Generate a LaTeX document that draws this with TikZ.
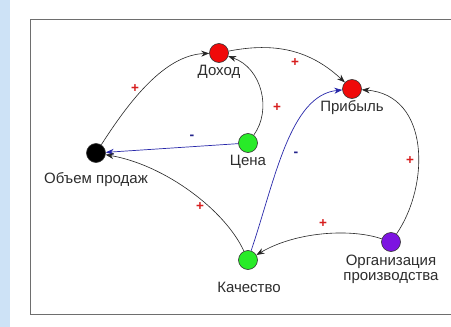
\documentclass[tikz,border=0pt]{standalone}
\usepackage{fontspec}
\setmainfont{Liberation Sans}
\usetikzlibrary{arrows.meta}
\definecolor{strip}{RGB}{205,226,246}
\definecolor{framec}{RGB}{110,110,110}
\definecolor{nred}{RGB}{240,10,10}
\definecolor{ngreen}{RGB}{40,235,40}
\definecolor{npurple}{RGB}{125,20,225}
\definecolor{txt}{RGB}{45,45,45}
\definecolor{plusc}{RGB}{215,30,30}
\definecolor{minusc}{RGB}{35,35,140}
\definecolor{bluel}{RGB}{40,40,170}
\tikzset{
  dot/.style={circle,draw=black!80,line width=0.6pt,minimum size=19pt,inner sep=0pt},
  lbl/.style={font=\fontsize{15}{17}\selectfont,text=txt,inner sep=0pt},
  link/.style={draw=black!85,line width=0.6pt,-{Stealth[length=8pt,width=6pt]}},
  nlink/.style={draw=bluel,line width=0.7pt,-{Stealth[length=8pt,width=6pt]}},
  plus/.style={font=\fontsize{13.5}{13}\selectfont\bfseries,text=plusc,inner sep=0pt},
  minus/.style={font=\fontsize{14}{13}\selectfont\bfseries,text=minusc,inner sep=0pt}
}
\begin{document}
\begin{tikzpicture}[x=1pt,y=-1pt]
\useasboundingbox (0,0) rectangle (451,327);
\fill[white] (0,0) rectangle (451,327);
\fill[strip] (0,0) rectangle (10,327);
\draw[framec,line width=1pt] (460,19) -- (30,19) -- (30,314) -- (460,314);
% nodes
\node[dot,fill=nred] (dox) at (219,53) {};
\node[dot,fill=nred] (prib) at (352,89) {};
\node[dot,fill=ngreen] (cena) at (248,143) {};
\node[dot,fill=black] (ob) at (96,153) {};
\node[dot,fill=ngreen] (kach) at (248,260) {};
\node[dot,fill=npurple] (org) at (391,242) {};
% labels
\node[lbl] (ldox) at (219,72) {Доход};
\node[lbl] (lprib) at (352,108) {Прибыль};
\node[lbl] (lcena) at (248,162) {Цена};
\node[lbl] (lob) at (96,180) {Объем продаж};
\node[lbl] (lkach) at (249,287) {Качество};
\node[lbl,align=center] (lorg) at (391,269.5) {Организация\\[-1.5pt]производства};
% edges
\draw[link] (ob) .. controls (130,100) and (165,55) .. (dox);
\draw[link] (cena) .. controls (272,110) and (262,68) .. (dox);
\draw[link] (dox) .. controls (275,42) and (310,50) .. (prib);
\draw[nlink] (cena) -- (ob);
\draw[link] (kach) .. controls (225,210) and (165,165) .. (ob);
\draw[nlink] (kach) .. controls (275,180) and (290,95) .. (prib);
\draw[link] (org) .. controls (430,185) and (430,95) .. (prib);
\draw[link] (org) .. controls (350,228) and (295,232) .. (kach);
% signs
\node[plus] (p1) at (135,89) {+};
\node[plus] (p2) at (295,63) {+};
\node[plus] (p3) at (277,108) {+};
\node[plus] (p4) at (410,161) {+};
\node[plus] (p5) at (200,207) {+};
\node[plus] (p6) at (323,224) {+};
\node[minus] (m1) at (192,137) {-};
\node[minus] (m2) at (296,154) {-};
\end{tikzpicture}
\end{document}
